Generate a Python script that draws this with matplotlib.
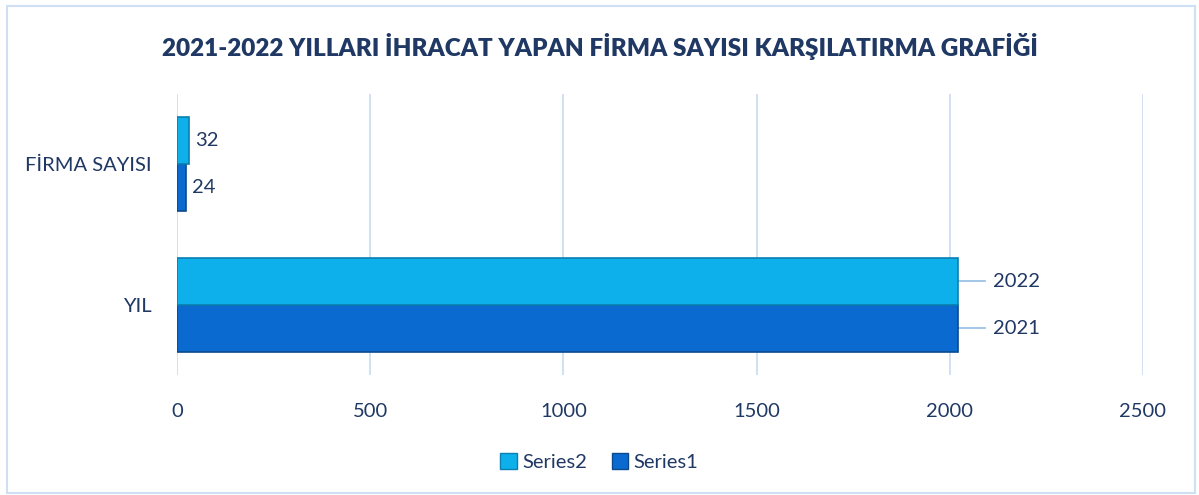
import matplotlib
matplotlib.use("Agg")
import matplotlib.pyplot as plt
from matplotlib.patches import Rectangle, Patch

categories = ["YIL", "FİRMA SAYISI"]
series1 = [2021, 24]
series2 = [2022, 32]
series_names = ["Series1", "Series2"]
xticks = [0, 500, 1000, 1500, 2000, 2500]
title = "2021-2022 YILLARI İHRACAT YAPAN FİRMA SAYISI KARŞILATIRMA GRAFİĞİ"

txt = "#1F3864"
c1, e1 = "#0A6AD0", "#0B4A8C"
c2, e2 = "#0EB0EC", "#0A7FB0"
grid = "#C9DBF0"

plt.rcParams['font.family'] = ['Lato', 'DejaVu Sans']

fig = plt.figure(figsize=(11.99, 4.95), dpi=100)
fig.patches.append(Rectangle((7/1199, 2/495), 1188/1199, 487/495, transform=fig.transFigure,
                             fill=False, edgecolor="#CFE0F4", linewidth=1.5))
ax = fig.add_axes([177/1199, 1-375/495, 966/1199, 281/495])

h = 0.335
ypos = list(range(len(categories)))
ax.barh([y - h/2 for y in ypos], series1, height=h, color=c1, edgecolor=e1, linewidth=1.2, zorder=3)
ax.barh([y + h/2 for y in ypos], series2, height=h, color=c2, edgecolor=e2, linewidth=1.2, zorder=3)

ax.set_xlim(0, 2500)
ax.set_ylim(-0.5, 1.5)
ax.set_xticks(xticks)
ax.set_xticklabels([str(t) for t in xticks], fontsize=14.5, color=txt)
ax.set_yticks(ypos)
ax.set_yticklabels(categories, fontsize=14.5, color=txt)
ax.tick_params(length=0)
ax.tick_params(axis='x', pad=20)
ax.tick_params(axis='y', pad=18)
for s in ax.spines.values():
    s.set_visible(False)
ax.grid(axis='x', color=grid, linewidth=1.2, zorder=0)
ax.set_axisbelow(True)

# data labels
for i, (v1, v2) in enumerate(zip(series1, series2)):
    if v1 > 500:
        for v, yy in ((v1, i - h/2), (v2, i + h/2)):
            ax.plot([v, 2091], [yy, yy], color="#9DC3E6", linewidth=1.3, zorder=2)
            ax.text(2112, yy, str(v), va='center', ha='left', fontsize=14.5, color=txt)
    else:
        ax.text(v1 + 15, i - h/2, str(v1), va='center', ha='left', fontsize=14.5, color=txt)
        ax.text(v2 + 15, i + h/2, str(v2), va='center', ha='left', fontsize=14.5, color=txt)

fig.text(0.5, 1-46/495, title, ha='center', va='center', fontsize=17.5, fontweight='heavy', color=txt)

handles = [Patch(facecolor=c2, edgecolor=e2), Patch(facecolor=c1, edgecolor=e1)]
fig.legend(handles, [series_names[1], series_names[0]], loc='center', bbox_to_anchor=(0.5, 1-462/495),
           ncol=2, frameon=False, fontsize=14.5, labelcolor=txt, handlelength=0.8, handleheight=0.8,
           handletextpad=0.3, columnspacing=1.2)

fig.savefig("out.png", dpi=100)
